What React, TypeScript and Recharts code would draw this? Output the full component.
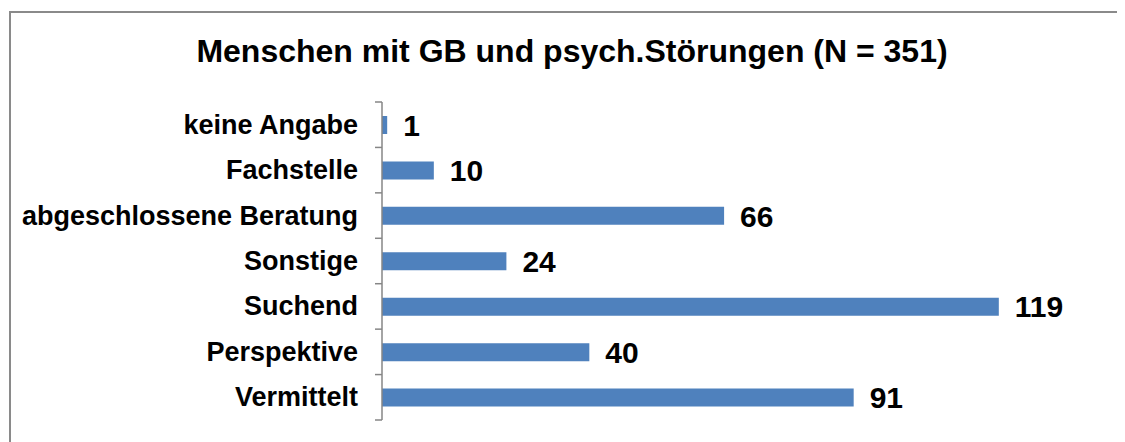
import { BarChart, Bar, XAxis, YAxis, LabelList } from "recharts";

const categories = [
  "keine Angabe",
  "Fachstelle",
  "abgeschlossene Beratung",
  "Sonstige",
  "Suchend",
  "Perspektive",
  "Vermittelt",
];
const counts = [1, 10, 66, 24, 119, 40, 91];

const data = categories.map((name, i) => ({ name, value: counts[i] }));

const FONT = "Arial, 'Liberation Sans', sans-serif";
const AXIS_GREY = "#868686";

// label plus the small marks at the category boundaries (Excel style)
const CategoryTick = (props: any) => {
  const { x, y, payload, index } = props;
  const half = payload && payload.offset ? payload.offset : 22.7;
  const x1 = x + 17;
  const x2 = x + 24;
  return (
    <g>
      <line x1={x1} x2={x2} y1={y - half} y2={y - half} stroke={AXIS_GREY} strokeWidth={1.5} />
      {index === categories.length - 1 && (
        <line x1={x1} x2={x2} y1={y + half} y2={y + half} stroke={AXIS_GREY} strokeWidth={1.5} />
      )}
      <text
        x={x}
        y={y}
        textAnchor="end"
        dominantBaseline="central"
        fontFamily={FONT}
        fontWeight="bold"
        fontSize={27}
        fill="#000"
      >
        {payload.value}
      </text>
    </g>
  );
};

export default function App() {
  return (
    <div style={{ position: "relative", width: 1117, height: 434, overflow: "hidden", background: "#fff" }}>
      <div
        style={{
          position: "absolute",
          left: 1,
          top: 3,
          width: 1200,
          height: 600,
          border: "2px solid #8a8a8a",
        }}
      />
      <div
        style={{
          position: "absolute",
          left: 0,
          top: 27,
          width: 1128,
          textAlign: "center",
          fontFamily: FONT,
          fontWeight: "bold",
          fontSize: 32,
          lineHeight: 1,
          color: "#000",
        }}
      >
        Menschen mit GB und psych.Störungen (N = 351)
      </div>
      <div style={{ position: "absolute", left: 0, top: 0 }}>
        <BarChart
          width={1117}
          height={434}
          data={data}
          layout="vertical"
          margin={{ top: 94, right: 121, bottom: 22, left: 0 }}
        >
          <XAxis type="number" domain={[0, 120]} hide />
          <YAxis
            type="category"
            dataKey="name"
            width={374}
            axisLine={{ stroke: AXIS_GREY, strokeWidth: 1.5 }}
            tickLine={false}
            tickSize={7}
            tickMargin={17}
            tick={<CategoryTick />}
            interval={0}
          />
          <Bar dataKey="value" fill="#4F81BD" barSize={18} isAnimationActive={false}>
            <LabelList
              dataKey="value"
              position="right"
              offset={16}
              fill="#000"
              fontFamily={FONT}
              fontWeight="bold"
              fontSize={30}
            />
          </Bar>
        </BarChart>
      </div>
    </div>
  );
}
